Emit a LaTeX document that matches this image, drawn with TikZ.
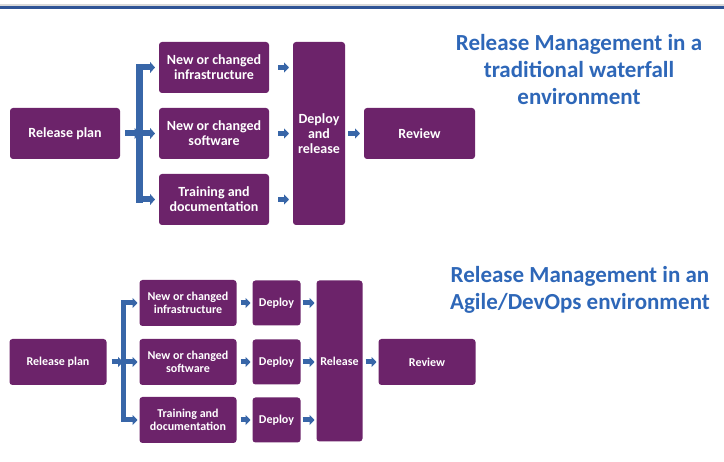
\documentclass[tikz,border=0pt]{standalone}
\usepackage{fontspec}
\setmainfont{Carlito}
\usetikzlibrary{calc,arrows.meta,positioning}
\definecolor{relpurple}{RGB}{108,35,106}
\definecolor{arrowblue}{RGB}{56,102,168}
\definecolor{titleblue}{RGB}{46,103,184}
\definecolor{rulerblue}{RGB}{47,84,150}
\tikzset{
  stage/.style={fill=relpurple, rounded corners=3pt, text=white, align=center,
    font=\fontsize{14}{15}\selectfont\bfseries, inner sep=2pt, outer sep=0pt,
    minimum width=110pt, minimum height=51pt},
  smallstage/.style={stage, font=\fontsize{12}{13}\selectfont\bfseries,
    minimum width=97pt, minimum height=46pt},
  arr/.style={draw=arrowblue, line width=6pt, -{Triangle[length=5pt,width=11pt]}},
  sarr/.style={draw=arrowblue, line width=5pt, -{Triangle[length=5pt,width=10pt]}},
  bar/.style={draw=arrowblue, line width=7pt, line cap=rect},
  heading/.style={text=titleblue, align=center, font=\fontsize{23}{27}\selectfont\bfseries}
}
\begin{document}
\begin{tikzpicture}[x=1pt, y=-1pt]
  \useasboundingbox (0,0) rectangle (724,462);
  \fill[black!15] (0,4.5) rectangle (724,6);
  \fill[rulerblue] (0,6) rectangle (724,9.5);

  % ---- Waterfall ----
  \node[stage] (plan) at (65,133.5) {Release plan};
  \node[stage, right=39pt of plan] (soft) {New or changed\\software};
  \node[stage, above=15pt of soft] (infra) {New or changed\\infrastructure};
  \node[stage, below=15pt of soft] (train) {Training and\\documentation};
  \node[stage, right=24pt of soft, minimum width=52pt, minimum height=183pt] (deprel) {Deploy\\and\\release};
  \node[stage, right=19pt of deprel, minimum width=111pt] (review) {Review};

  \coordinate (split) at ($(plan.east)!0.5!(soft.west)$);
  \draw[bar] (split |- infra.west) -- (split |- train.west);
  \draw[arr, shorten <=5pt] (plan.east) -- (split);
  \foreach \n in {infra,soft,train}
    \draw[arr, shorten >=4pt] (split |- \n.west) -- (\n.west);
  \foreach \n in {infra,soft,train}
    \draw[sarr, shorten <=9pt, shorten >=4pt] (\n.east) -- (\n.east -| deprel.west);
  \draw[sarr, shorten <=3pt, shorten >=4pt] (deprel.east |- review.west) -- (review.west);

  \node[heading] (wftitle) at (579,70) {Release Management in a\\traditional waterfall\\environment};

  % ---- Agile / DevOps ----
  \node[smallstage] (plan2) at (58,362) {Release plan};
  \node[smallstage, right=33pt of plan2] (soft2) {New or changed\\software};
  \node[smallstage, above=13pt of soft2] (infra2) {New or changed\\infrastructure};
  \node[smallstage, below=12pt of soft2] (train2) {Training and\\documentation};
  \foreach \n in {infra2,soft2,train2}
    \node[smallstage, right=16pt of \n, minimum width=48pt, minimum height=45pt] (dep\n) {Deploy};
  \node[smallstage, minimum width=46pt, minimum height=161pt, anchor=north west]
    (release) at ($(depinfra2.north east)+(16pt,0)$) {Release};
  \node[smallstage, anchor=west] (review2) at ($(release.east |- plan2.east)+(16pt,0)$) {Review};

  \coordinate (split2) at ($(plan2.east)!0.5!(soft2.west)$);
  \draw[bar, line width=5pt] (split2 |- infra2.west) -- (split2 |- train2.west);
  \draw[sarr, shorten <=5pt] (plan2.east) -- (split2);
  \foreach \n in {infra2,soft2,train2} {
    \draw[sarr, shorten >=2pt] (split2 |- \n.west) -- (\n.west);
    \draw[sarr, shorten <=4pt, shorten >=2pt] (\n.east) -- (dep\n.west);
    \draw[sarr, shorten <=2pt, shorten >=2pt] (dep\n.east) -- (dep\n.east -| release.west);
  }
  \draw[sarr, shorten <=3pt, shorten >=2pt] (release.east |- review2.west) -- (review2.west);

  \node[heading] (agtitle) at (580,290) {Release Management in an\\Agile/DevOps environment};
\end{tikzpicture}
\end{document}
